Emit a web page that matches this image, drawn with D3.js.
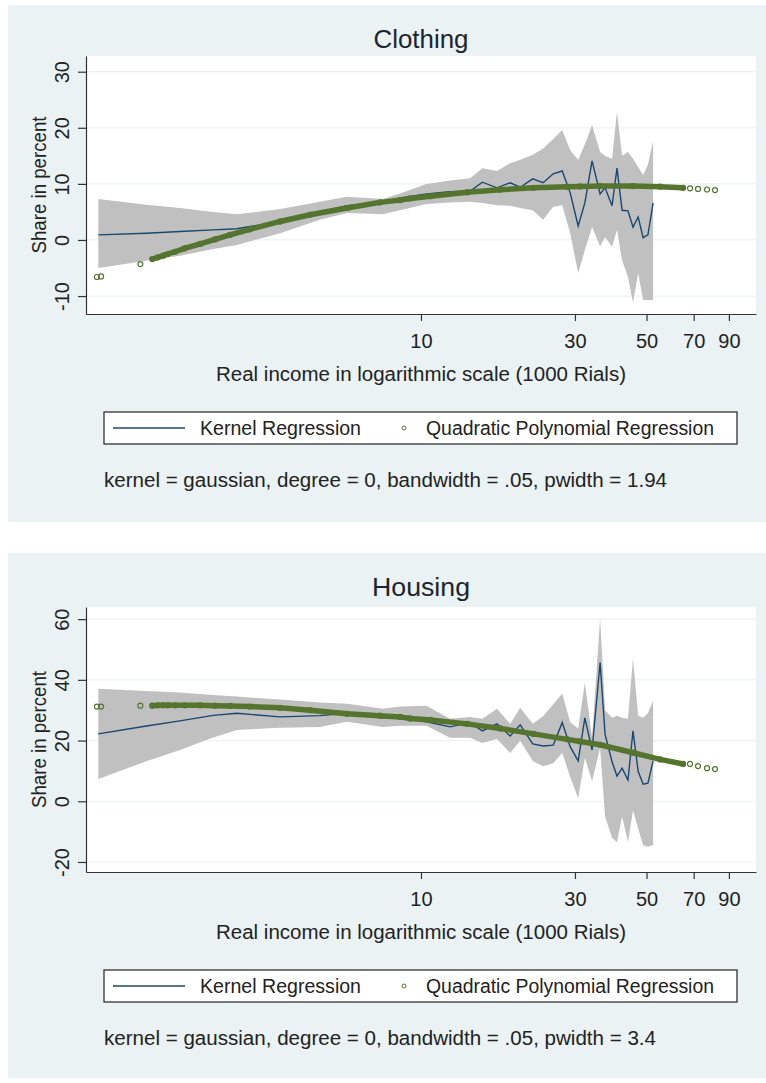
<!DOCTYPE html>
<html>
<head>
<meta charset="utf-8">
<script src="https://cdn.jsdelivr.net/npm/d3@7"></script>
<style>
  body { margin: 0; background: #fff; }
  svg { display: block; }
  text { font-family: "Liberation Sans", Arial, sans-serif; fill: #222; }
</style>
</head>
<body>
<svg width="766" height="1083"></svg>
<script>
// kernel regression grid (income, 1000 Rials)
const kernelIncome = [1.00, 1.41, 1.79, 2.27, 2.69, 3.66, 4.86, 5.90, 7.62, 8.61, 10.4, 12.3, 14.2, 15.5, 17.2, 18.9, 20.3, 22.2, 23.9, 25.7, 27.4, 29.0, 30.7, 32.2, 33.9, 35.9, 37.2, 39.1, 40.5, 42.0, 43.8, 45.4, 47.1, 48.8, 50.5, 52.4]

const clothingKernel = [0.9, 1.2, 1.5, 1.8, 2.0, 3.3, 5.0, 6.1, 6.8, 7.5, 8.2, 8.6, 8.7, 10.3, 9.3, 10.2, 9.4, 10.9, 10.2, 11.8, 12.3, 8.4, 2.5, 6.6, 14.1, 8.2, 9.3, 6.1, 12.8, 5.3, 5.2, 2.3, 4.1, 0.4, 0.9, 6.6]
const clothingUpper = [7.3, 6.3, 5.7, 5.0, 4.6, 5.5, 6.8, 7.7, 7.3, 8.3, 10.0, 10.6, 11.0, 12.8, 12.3, 13.7, 14.3, 15.2, 16.3, 18.0, 19.6, 16.0, 14.3, 17.0, 20.5, 15.7, 15.0, 14.5, 22.8, 15.0, 15.7, 14.5, 13.0, 11.6, 13.4, 17.6]
const clothingLower = [-5.0, -3.7, -2.8, -1.6, -0.9, 1.2, 3.6, 4.8, 4.6, 5.3, 6.4, 6.7, 6.8, 6.6, 6.2, 6.1, 5.7, 5.3, 3.6, 5.9, 6.2, 1.2, -5.9, -1.8, 2.3, -1.1, 0.5, -1.2, 1.8, -3.6, -6.6, -11.2, -5.9, -10.7, -10.7, -10.7]

const housingKernel = [22.2, 24.8, 26.5, 28.3, 29.0, 27.8, 28.2, 29.0, 27.5, 27.5, 26.2, 24.5, 25.9, 23.2, 25.5, 21.5, 25.2, 18.9, 18.2, 18.5, 25.9, 18.0, 13.3, 27.5, 16.9, 45.7, 22.0, 13.0, 8.3, 10.9, 7.0, 23.2, 9.9, 5.6, 6.0, 13.3]
const housingUpper = [37.1, 36.3, 35.8, 35.0, 34.5, 33.5, 32.5, 32.1, 30.5, 31.2, 31.5, 27.2, 27.8, 27.2, 30.5, 25.5, 30.8, 25.5, 28.0, 32.0, 35.5, 26.0, 24.0, 39.1, 20.9, 60.3, 30.0, 27.5, 28.2, 27.5, 27.2, 47.1, 28.2, 27.5, 29.0, 33.1]
const housingLower = [7.3, 13.2, 16.9, 21.0, 23.5, 24.2, 24.5, 26.2, 24.5, 24.9, 24.9, 20.9, 20.9, 19.2, 20.5, 15.9, 19.9, 13.3, 11.5, 12.5, 15.9, 8.0, 1.0, 14.3, 6.6, 17.6, -5.0, -12.0, -13.5, -5.0, -13.5, -3.0, -9.0, -14.5, -15.0, -14.5]

// quadratic polynomial fitted values at observed incomes
const quadIncome = [0.99, 1.02, 1.35, 1.47, 1.53, 1.59, 1.64, 1.73, 1.85, 2.07, 2.30, 2.56, 2.95, 3.66, 4.53, 5.90, 7.46, 8.61, 9.25, 10.7, 13.9, 17.6, 22.3, 28.4, 31.1, 35.9, 45.4, 55.1, 64.9, 68.2, 72.2, 77.0, 81.5]
const clothingQuad = [-6.6, -6.5, -4.3, -3.4, -3.1, -2.8, -2.5, -2.1, -1.5, -0.7, 0.1, 0.9, 1.9, 3.3, 4.5, 5.7, 6.7, 7.1, 7.4, 7.8, 8.5, 8.95, 9.3, 9.5, 9.55, 9.6, 9.6, 9.5, 9.3, 9.2, 9.1, 9.0, 8.9]
const housingQuad = [31.2, 31.2, 31.5, 31.5, 31.6, 31.6, 31.6, 31.6, 31.6, 31.6, 31.5, 31.4, 31.2, 30.8, 30.0, 28.8, 28.2, 27.8, 27.3, 26.8, 25.5, 24.0, 22.2, 20.4, 19.7, 18.6, 16.0, 13.8, 12.3, 12.3, 11.6, 10.9, 10.6]

const xTicks = [10, 30, 50, 70, 90]
const clothingTicks = [-10, 0, 10, 20, 30]
const housingTicks = [-20, 0, 20, 40, 60]

const legendLabels = ['Kernel Regression', 'Quadratic Polynomial Regression']

const navy = '#1a476f'
const green = '#55752f'
const bg = '#eaf2f3'

const svg = d3.select('svg')
const x = d3.scaleLog().domain([0.916, 109.2]).range([86, 756])

function panel(o) {
  const g = svg.append('g')
  const y = d3.scaleLinear().domain(o.yDomain).range([o.plotBottom, o.plotTop])

  g.append('rect').attr('x', 8).attr('y', o.top).attr('width', 760).attr('height', o.height).attr('fill', bg)
  g.append('rect').attr('x', 86).attr('y', o.plotTop).attr('width', 670).attr('height', o.plotBottom - o.plotTop).attr('fill', '#fff')

  g.append('text')
    .attr('x', 421).attr('y', o.top + 43)
    .attr('text-anchor', 'middle')
    .attr('font-size', 26)
    .attr('textLength', o.titleWidth).attr('lengthAdjust', 'spacingAndGlyphs')
    .style('fill', '#1c2430')
    .text(o.title)

  g.append('g').selectAll('line')
    .data(o.ticks)
    .join('line')
      .attr('x1', 86).attr('x2', 756)
      .attr('y1', d => y(d)).attr('y2', d => y(d))
      .attr('stroke', bg).attr('stroke-width', 1.2)

  const rows = kernelIncome.map((v, i) => ({ x: v, k: o.kernel[i], hi: o.upper[i], lo: o.lower[i] }))

  g.append('path')
    .datum(rows)
    .attr('fill', '#c0c0c0')
    .attr('d', d3.area().x(d => x(d.x)).y0(d => y(d.lo)).y1(d => y(d.hi)))

  g.append('path')
    .datum(rows)
    .attr('fill', 'none').attr('stroke', navy).attr('stroke-width', 1.4)
    .attr('d', d3.line().x(d => x(d.x)).y(d => y(d.k)))

  const pts = quadIncome.map((v, i) => ({ x: v, y: o.quad[i] }))
  // dense part of the fitted values forms a solid band
  g.append('path')
    .datum(pts.filter(d => d.x >= 1.45 && d.x <= 66))
    .attr('fill', 'none').attr('stroke', green).attr('stroke-width', 5.5).attr('stroke-linecap', 'round')
    .attr('d', d3.line().x(d => x(d.x)).y(d => y(d.y)))
  g.append('g').selectAll('circle')
    .data(pts)
    .join('circle')
      .attr('cx', d => x(d.x)).attr('cy', d => y(d.y)).attr('r', 2.5)
      .attr('fill', 'none').attr('stroke', green).attr('stroke-width', 1.2)

  // axes
  const ya = g.append('g')
    .attr('transform', 'translate(86,0)')
    .call(d3.axisLeft(y).tickValues(o.ticks).tickFormat(String).tickSize(8).tickSizeOuter(0))
  ya.selectAll('.tick text')
    .attr('x', 0).attr('y', -17).attr('dy', 0)
    .attr('transform', 'rotate(-90)')
    .attr('text-anchor', 'middle')
  ya.append('text')
    .attr('transform', `translate(-40,${(o.plotTop + o.plotBottom) / 2}) rotate(-90)`)
    .attr('text-anchor', 'middle')
    .attr('textLength', 137).attr('lengthAdjust', 'spacingAndGlyphs')
    .style('fill', '#222')
    .text('Share in percent')

  const xa = g.append('g')
    .attr('transform', `translate(0,${o.plotBottom})`)
    .call(d3.axisBottom(x).tickValues(xTicks).tickFormat(String).tickSize(7).tickSizeOuter(0).tickPadding(13))
  xa.append('text')
    .attr('x', 421).attr('y', 67)
    .attr('text-anchor', 'middle')
    .attr('textLength', 410).attr('lengthAdjust', 'spacingAndGlyphs')
    .style('fill', '#222')
    .text('Real income in logarithmic scale (1000 Rials)')

  for (const a of [ya, xa]) {
    a.attr('font-size', 20).attr('font-family', null)
    a.selectAll('path.domain, .tick line').attr('stroke', '#333').attr('stroke-width', 1.2)
    a.selectAll('.tick text').style('fill', '#222')
  }

  // legend
  const ly = o.plotBottom + 98
  const lg = g.append('g').attr('font-size', 20)
  lg.append('rect').attr('x', 104).attr('y', ly).attr('width', 633).attr('height', 32)
    .attr('fill', '#fff').attr('stroke', '#222').attr('stroke-width', 1.2)
  lg.append('line').attr('x1', 113).attr('x2', 185).attr('y1', ly + 16).attr('y2', ly + 16)
    .attr('stroke', navy).attr('stroke-width', 1.4)
  lg.append('text').attr('x', 200).attr('y', ly + 23)
    .attr('textLength', 161).attr('lengthAdjust', 'spacingAndGlyphs').text(legendLabels[0])
  lg.append('circle').attr('cx', 404).attr('cy', ly + 16).attr('r', 2)
    .attr('fill', 'none').attr('stroke', green).attr('stroke-width', 1)
  lg.append('text').attr('x', 426).attr('y', ly + 23)
    .attr('textLength', 288).attr('lengthAdjust', 'spacingAndGlyphs').text(legendLabels[1])

  g.append('text')
    .attr('x', 104).attr('y', o.plotBottom + 173)
    .attr('font-size', 20)
    .attr('textLength', o.noteWidth).attr('lengthAdjust', 'spacingAndGlyphs')
    .text(o.note)
}

panel({
  top: 5, height: 517, plotTop: 56, plotBottom: 314,
  yDomain: [-13.2, 32.8], ticks: clothingTicks,
  title: 'Clothing', titleWidth: 95,
  kernel: clothingKernel, upper: clothingUpper, lower: clothingLower, quad: clothingQuad,
  note: 'kernel = gaussian, degree = 0, bandwidth = .05, pwidth = 1.94', noteWidth: 563
})

panel({
  top: 553, height: 525, plotTop: 607, plotBottom: 872,
  yDomain: [-23.3, 64], ticks: housingTicks,
  title: 'Housing', titleWidth: 98,
  kernel: housingKernel, upper: housingUpper, lower: housingLower, quad: housingQuad,
  note: 'kernel = gaussian, degree = 0, bandwidth = .05, pwidth = 3.4', noteWidth: 552
})
</script>
</body>
</html>
